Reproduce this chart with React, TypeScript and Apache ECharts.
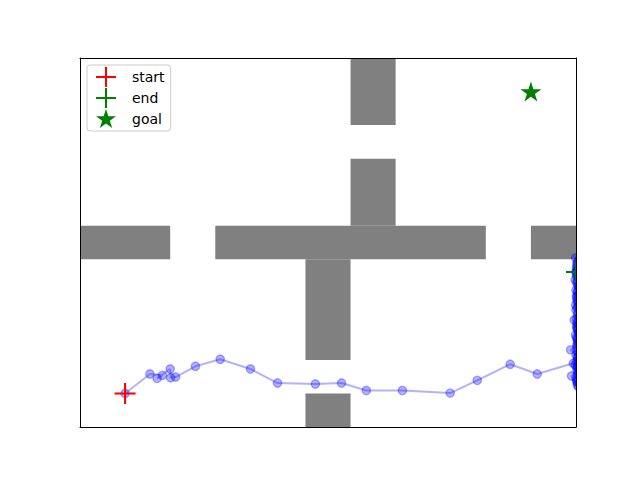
import React, { useEffect, useRef } from "react";
import * as echarts from "echarts";

// Walls: [x0, y0, x1, y1]
const walls: number[][] = [
  [0, 5, 2, 6],
  [3, 5, 9, 6],
  [10, 5, 11, 6],
  [6, 9, 7, 11],
  [6, 6, 7, 8],
  [5, 2, 6, 5],
  [5, 0, 6, 1],
];

const trajX = [
  1.0, 1.55, 1.83, 1.71, 2.0, 2.01, 2.12, 2.56, 3.11, 3.78, 4.38, 5.22, 5.8, 6.35, 7.15, 8.21, 8.81, 9.54, 10.14, 10.94,
  11.02, 10.9, 11.03, 11.01, 10.98, 11.04, 11.0, 10.88, 11.02, 11.03, 10.99, 11.04, 11.01, 10.96, 11.03, 11.0, 10.99,
  11.02, 11.04, 11.0, 11.03, 10.98, 11.02, 11.01, 11.03, 10.99, 11.02, 11.0,
  11.05, 11.02, 11.06, 11.03, 11.01, 11.05, 11.02, 11.04, 11.06, 11.02, 11.03, 11.05, 11.01, 11.04, 11.02, 11.06,
  11.03, 11.05, 11.02, 11.04, 11.01, 11.03, 11.05, 11.02, 11.04, 11.06, 11.03, 11.01, 11.05, 11.02, 11.04, 11.03,
  11.06, 11.02, 11.04, 11.01, 11.05, 11.03, 11.02, 11.04, 11.06, 11.03, 11.01, 11.04, 11.02, 11.05, 11.03, 11.0,
];
const trajY = [
  1.0, 1.58, 1.54, 1.45, 1.73, 1.47, 1.49, 1.81, 2.02, 1.73, 1.31, 1.28, 1.31, 1.09, 1.09, 1.01, 1.39, 1.87, 1.58, 1.9,
  1.7, 1.52, 1.25, 1.4, 1.85, 2.0, 2.15, 2.3, 2.44, 2.59, 2.74, 2.89, 3.01, 3.19, 3.34, 3.49, 3.64, 3.79, 3.93, 4.08,
  4.23, 4.38, 4.53, 4.74, 4.92, 5.04, 4.8, 4.62,
  4.45, 4.31, 4.17, 4.02, 3.88, 3.71, 3.56, 3.42, 3.27, 3.1, 2.95, 2.81, 2.66, 2.52, 2.37, 2.22, 2.08, 1.93, 1.78,
  1.62, 1.46, 1.33, 1.2, 1.36, 1.55, 1.68, 1.81, 1.96, 2.11, 2.26, 2.48, 2.63, 2.78, 2.93, 3.06, 3.22, 3.6, 3.75,
  3.9, 4.05, 4.2, 4.35, 4.5, 4.68, 4.86, 4.97, 4.7, 4.62,
];

const startPt = [1.0, 1.0];
const endPt = [11.0, 4.62];
const goalPt = [10.0, 10.0];

const legendNames = ["start", "end", "goal"];

const plusPath = "path://M9,0H11V9H20V11H11V20H9V11H0V9H9Z";
const starPath =
  "path://M10,0L12.25,6.91L19.51,6.91L13.63,11.18L15.88,18.09L10,13.82L4.12,18.09L6.37,11.18L0.49,6.91L7.75,6.91Z";

export default function App() {
  const ref = useRef<HTMLDivElement>(null);
  useEffect(() => {
    if (!ref.current) return;
    const chart = echarts.init(ref.current, undefined, { renderer: "svg" });
    const traj = trajX.map((x, i) => [x, trajY[i]]);
    const axisCommon = {
      type: "value" as const,
      min: 0,
      max: 11,
      axisLine: { show: true, onZero: false, lineStyle: { color: "#000", width: 1 } },
      axisTick: { show: false },
      axisLabel: { show: false },
      splitLine: { show: false },
      z: 10,
    };
    chart.setOption({
      animation: false,
      backgroundColor: "#fff",
      textStyle: { fontFamily: "DejaVu Sans" },
      grid: { left: 80, top: 58, width: 496, height: 369 },
      xAxis: [
        { ...axisCommon, position: "bottom" },
        { ...axisCommon, position: "top" },
      ],
      yAxis: [
        { ...axisCommon, position: "left" },
        { ...axisCommon, position: "right" },
      ],
      legend: {
        left: 87,
        top: 65,
        orient: "vertical",
        padding: [2, 6, 3, 9],
        itemGap: 1,
        itemWidth: 20,
        itemHeight: 20,
        borderColor: "#cccccc",
        borderWidth: 1,
        borderRadius: 3,
        backgroundColor: "rgba(255,255,255,0.8)",
        z: 20,
        textStyle: { fontSize: 14, color: "#000", fontFamily: "DejaVu Sans", padding: [0, 0, 0, 11] },
        data: [
          { name: legendNames[0], icon: plusPath },
          { name: legendNames[1], icon: plusPath },
          { name: legendNames[2], icon: starPath },
        ],
      },
      series: [
        {
          type: "custom",
          name: "walls",
          clip: true,
          z: 1,
          data: walls,
          encode: { x: [0, 2], y: [1, 3] },
          renderItem: (_p: any, api: any) => {
            const a = api.coord([api.value(0), api.value(3)]);
            const b = api.coord([api.value(2), api.value(1)]);
            return {
              type: "rect",
              shape: { x: a[0], y: a[1], width: b[0] - a[0], height: b[1] - a[1] },
              style: { fill: "#808080" },
            };
          },
        },
        {
          type: "line",
          name: "path",
          data: traj,
          symbol: "none",
          clip: true,
          z: 2,
          lineStyle: { color: "rgba(0,0,255,0.3)", width: 2 },
        },
        {
          type: "custom",
          name: "points",
          clip: true,
          z: 3,
          data: traj,
          encode: { x: 0, y: 1 },
          renderItem: (_p: any, api: any) => {
            const c = api.coord([api.value(0), api.value(1)]);
            return {
              type: "circle",
              shape: { cx: c[0], cy: c[1], r: 4.2 },
              style: { fill: "rgba(0,0,255,0.3)", stroke: "rgba(0,0,255,0.3)", lineWidth: 1.4 },
            };
          },
        },
        {
          type: "scatter",
          name: legendNames[0],
          data: [startPt],
          symbol: plusPath,
          symbolSize: 21,
          z: 5,
          itemStyle: { color: "#ff0000", opacity: 1 },
        },
        {
          type: "custom",
          name: legendNames[1],
          clip: true,
          z: 5,
          data: [endPt],
          encode: { x: 0, y: 1 },
          itemStyle: { color: "#008000" },
          renderItem: (_p: any, api: any) => {
            const c = api.coord([api.value(0), api.value(1)]);
            return {
              type: "group",
              children: [
                {
                  type: "line",
                  shape: { x1: c[0] - 10, y1: c[1], x2: c[0] + 10, y2: c[1] },
                  style: { stroke: "#008000", lineWidth: 2 },
                },
                {
                  type: "line",
                  shape: { x1: c[0], y1: c[1] - 10, x2: c[0], y2: c[1] + 10 },
                  style: { stroke: "#008000", lineWidth: 2 },
                },
              ],
            };
          },
        },
        {
          type: "scatter",
          name: legendNames[2],
          data: [goalPt],
          symbol: starPath,
          symbolSize: [21, 20],
          z: 5,
          itemStyle: { color: "#008000", opacity: 1 },
        },
      ],
    });
    return () => chart.dispose();
  }, []);
  return <div ref={ref} style={{ position: "fixed", left: 0, top: 0, width: 640, height: 480 }} />;
}
